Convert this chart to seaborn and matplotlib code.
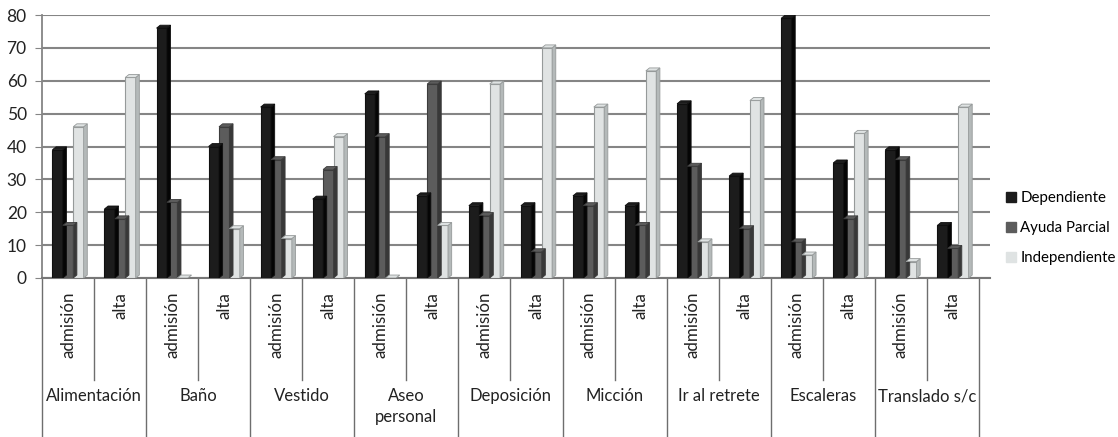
import matplotlib
matplotlib.use("Agg")
import matplotlib.pyplot as plt
from matplotlib.patches import Polygon
from matplotlib.lines import Line2D
import seaborn as sns
import pandas as pd

# --- data -------------------------------------------------------------
categorias = ["Alimentación", "Baño", "Vestido", "Aseo\npersonal", "Deposición",
              "Micción", "Ir al retrete", "Escaleras", "Translado s/c"]
momentos = ["admisión", "alta"]
series = ["Dependiente", "Ayuda Parcial", "Independiente"]

dependiente = [39, 21, 76, 40, 52, 24, 56, 25, 22, 22, 25, 22, 53, 31, 79, 35, 39, 16]
ayuda_parcial = [16, 18, 23, 46, 36, 33, 43, 59, 19, 8, 22, 16, 34, 15, 11, 18, 36, 9]
independiente = [46, 61, 0, 15, 12, 43, 0, 16, 59, 70, 52, 63, 11, 54, 7, 44, 5, 52]

colores = ["#1c1c1c", "#5c5c5c", "#dfe3e3"]
lados = ["#050505", "#383838", "#b4b9b9"]
bordes = ["#101010", "#3c3c3c", "#969a9a"]

# --- long table for seaborn --------------------------------------------
slots = [f"{c}|{m}" for c in categorias for m in momentos]
filas = []
for serie, valores in zip(series, [dependiente, ayuda_parcial, independiente]):
    for s, v in zip(slots, valores):
        filas.append({"slot": s, "serie": serie, "valor": v})
df = pd.DataFrame(filas)

plt.rcParams["font.family"] = ["Lato", "DejaVu Sans"]
fig = plt.figure(figsize=(11.18, 4.37), dpi=100)
W, H = 1118, 437
x0, x1, ytop, ybot = 42, 990, 15, 278
ax = fig.add_axes([x0 / W, 1 - ybot / H, (x1 - x0) / W, (ybot - ytop) / H])

sns.barplot(data=df, x="slot", y="valor", hue="serie", order=slots,
            hue_order=series, palette=colores, width=0.6, gap=0,
            dodge=True, ax=ax, legend=False, zorder=3)

# give each bar a little depth: a shaded side face and a top face
dx, dy = 0.07, 0.9
n = len(slots)
for i, p in enumerate(ax.patches[: 3 * n]):
    k = i // n
    p.set_edgecolor(bordes[k])
    p.set_linewidth(0.8)
    xl, yb = p.get_x(), p.get_y()
    w, h = p.get_width(), p.get_height()
    xr = xl + w
    side = Polygon([(xr, yb), (xr + dx, yb + dy), (xr + dx, h + dy), (xr, h)],
                   closed=True, facecolor=lados[k], edgecolor=bordes[k],
                   linewidth=0.6, zorder=3)
    top = Polygon([(xl, h), (xl + dx, h + dy), (xr + dx, h + dy), (xr, h)],
                  closed=True, facecolor=colores[k], edgecolor=bordes[k],
                  linewidth=0.6, zorder=3)
    ax.add_patch(side)
    ax.add_patch(top)

ax.set_ylim(0, 80)
ax.set_xlim(-0.5, 17.5 + (x1 - 979) / 52.0)
ax.set_yticks(range(0, 81, 10))
ax.yaxis.grid(True, color="#858585", linewidth=1.5, zorder=0)
ax.xaxis.grid(False)
ax.set_axisbelow(True)
ax.set_xlabel("")
ax.set_ylabel("")
ax.set_xticks([])
for lado in ["top", "right"]:
    ax.spines[lado].set_visible(False)
ax.spines["left"].set_color("#858585")
ax.spines["left"].set_linewidth(1.3)
ax.spines["bottom"].set_color("#777777")
ax.spines["bottom"].set_linewidth(1.5)
ax.tick_params(axis="y", length=5, color="#858585", labelsize=12.5,
               labelcolor="#222222", pad=6)

# --- category table under the axis ------------------------------------
trans = ax.get_xaxis_transform()
alto = ybot - ytop
def ay(py):
    return -(py - ybot) / alto

for b in range(2 * len(categorias) + 1):
    xb = b - 0.5
    fondo = ay(437) if b % 2 == 0 else ay(380)
    ax.plot([xb, xb], [0, fondo], transform=trans, color="#6e6e6e",
            linewidth=1.0, clip_on=False)

for j, s in enumerate(slots):
    momento = s.split("|")[1]
    ax.text(j, ay(292), momento, transform=trans, rotation=90,
            ha="center", va="top", fontsize=12.2, color="#222222")

for c, cat in enumerate(categorias):
    ax.text(2 * c + 0.5, ay(388), cat, transform=trans, ha="center",
            va="top", fontsize=12, color="#222222", linespacing=1.35)

# --- legend -------------------------------------------------------------
manejadores = [Line2D([0], [0], marker="s", linestyle="", markersize=7.5,
                      markerfacecolor=c, markeredgecolor=c) for c in colores]
fig.legend(manejadores, series, loc="center left",
           bbox_to_anchor=(997 / W, 1 - 228 / H), frameon=False,
           fontsize=10.8, handletextpad=0.15, labelspacing=1.05,
           handlelength=0.9, borderpad=0)

fig.savefig("out.png", dpi=100, facecolor="white")
